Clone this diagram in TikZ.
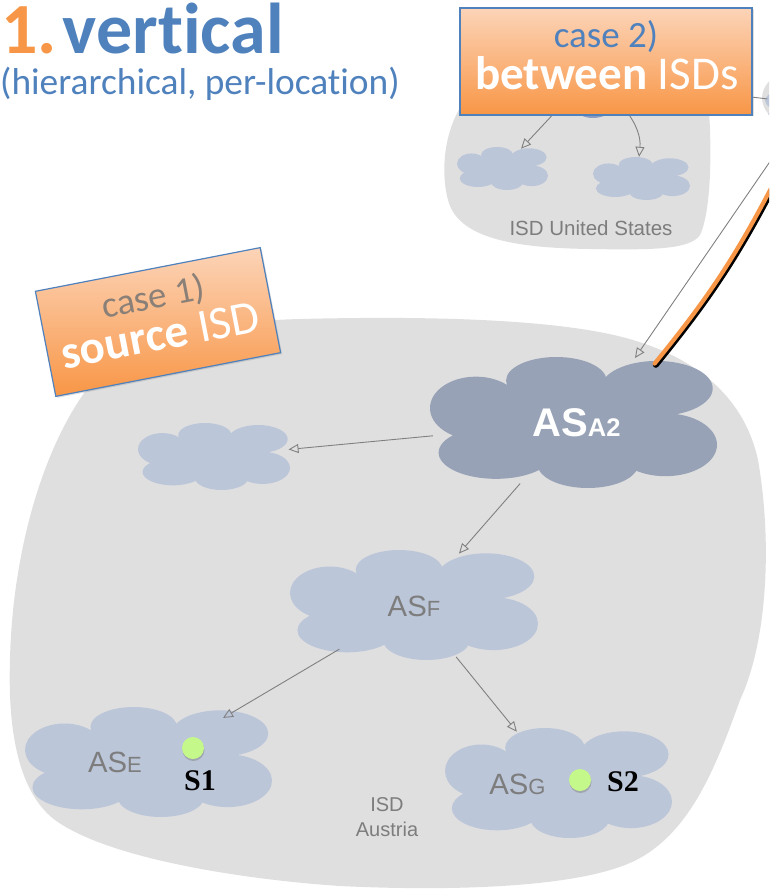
\documentclass[tikz,border=0pt]{standalone}
\usepackage{fontspec}
\usetikzlibrary{arrows.meta,shapes.geometric,shadows,calc}
\newfontfamily\calib[Ligatures=NoCommon]{Carlito}
\newfontfamily\arialf{Liberation Sans}
\newfontfamily\serifb{Liberation Serif}
\definecolor{blobgray}{RGB}{223,223,223}
\definecolor{cloudlight}{RGB}{188,198,217}
\definecolor{clouddark}{RGB}{151,162,182}
\definecolor{usdark}{RGB}{140,156,192}
\definecolor{arrowgray}{RGB}{128,128,128}
\definecolor{textgray}{RGB}{125,125,125}
\definecolor{titleorange}{RGB}{247,150,70}
\definecolor{titleblue}{RGB}{79,129,189}
\definecolor{dotgreen}{RGB}{197,248,138}
\definecolor{boxtop}{RGB}{252,212,184}
\definecolor{boxbot}{RGB}{248,150,70}
\definecolor{caseonegray}{RGB}{138,128,120}
\definecolor{linkorange}{RGB}{247,150,70}
\newcommand{\cloudat}[6]{%
  \begin{scope}[shift={(#2,#3)},xscale=#4/2,yscale=#5/2]
    \fill[#6] (-0.68,-0.22) ellipse [x radius=0.32,y radius=0.48]
      (-0.54,0.46) ellipse [x radius=0.40,y radius=0.40]
      (-0.12,-0.64) ellipse [x radius=0.35,y radius=0.36]
      (0.58,-0.52) ellipse [x radius=0.39,y radius=0.42]
      (0.64,0.34) ellipse [x radius=0.36,y radius=0.48]
      (0.10,0.64) ellipse [x radius=0.35,y radius=0.36]
      (0,0) ellipse [x radius=0.72,y radius=0.62];
  \end{scope}
  \node[cloudnode, minimum width=#4pt, minimum height=#5pt] (#1) at (#2,#3) {};}
\tikzset{
  cloudnode/.style={ellipse, draw=none, inner sep=0pt},
  isdarrow/.style={draw=arrowgray, line width=0.9pt, -{Triangle[open, length=10pt, width=9pt]}},
  casebox/.style={rectangle, draw=titleblue, line width=1.2pt, top color=boxtop, bottom color=boxbot,
    inner sep=0pt, minimum height=107pt, drop shadow={opacity=0.25, shadow xshift=1.5pt, shadow yshift=-1.5pt}},
  dot/.style={circle, fill=dotgreen, inner sep=0pt, minimum size=22pt,
    drop shadow={opacity=0.45, shadow xshift=0.5pt, shadow yshift=-2pt}},
  aslabel/.style={anchor=base, inner sep=0pt, text=textgray, font=\arialf},
  svlabel/.style={anchor=base, inner sep=0pt, text=black, font=\serifb\bfseries\fontsize{30}{30}\selectfont},
}
\begin{document}
\begin{tikzpicture}[x=1pt,y=-1pt]
\useasboundingbox (0,0) rectangle (769,893);
\clip (0,0) rectangle (769,893);
% ISD blobs
\fill[blobgray] (462,105) .. controls (445,130) and (440,170) .. (448,200)
  .. controls (458,240) and (520,248) .. (590,249)
  .. controls (650,250) and (690,250) .. (700,235)
  .. controls (712,210) and (712,140) .. (708,100) -- (708,60) -- (470,60) -- cycle;
\fill[blobgray] (840,98) ellipse [x radius=78, y radius=40];
\fill[blobgray] (90,385) .. controls (130,335) and (200,322) .. (300,319)
  .. controls (420,316) and (560,318) .. (633,340)
  .. controls (700,360) and (745,400) .. (758,460)
  .. controls (772,540) and (768,640) .. (740,700)
  .. controls (715,770) and (690,830) .. (640,858)
  .. controls (580,892) and (420,890) .. (340,886)
  .. controls (250,880) and (110,860) .. (55,820)
  .. controls (15,790) and (8,720) .. (10,660)
  .. controls (12,560) and (40,450) .. (90,385) -- cycle;
% clouds
\cloudat{ustop}{587}{78}{120}{80}{usdark}
\cloudat{usleft}{502.5}{168.5}{91}{43}{cloudlight}
\cloudat{usright}{641.5}{178.5}{97}{43}{cloudlight}
\cloudat{farright}{820}{105}{110}{40}{cloudlight}
\cloudat{asa2}{573.5}{422.5}{287}{131}{clouddark}
\cloudat{asleft}{214}{456.5}{152}{67}{cloudlight}
\cloudat{asf}{414}{605}{248}{110}{cloudlight}
\cloudat{ase}{148.5}{762}{247}{110}{cloudlight}
\cloudat{asg}{558.5}{783}{227}{110}{cloudlight}
% connectors
\draw[draw=arrowgray, line width=0.9pt] (ustop) -- (farright);
\draw[isdarrow] (ustop) -- (usleft);
\draw[isdarrow] (ustop) to[bend left=22] (usright);
\draw[isdarrow] (asa2) -- (asleft);
\draw[isdarrow] (asa2) -- (asf);
\draw[isdarrow] (asf) -- (ase);
\draw[isdarrow] (asf) -- (asg);
% labels
\node[anchor=base, inner sep=0pt, text=textgray, font=\arialf\fontsize{20.5}{20.5}\selectfont] (uslabel) at (591,236) {ISD United States};
\node[anchor=center, inner sep=0pt, align=center, text=textgray, font=\arialf\fontsize{20}{25}\selectfont] (atlabel) at (387,817) {ISD\\Austria};
\node[aslabel, text=white, font=\arialf\bfseries] (asa2t) at (576.5,436) {\fontsize{40}{40}\selectfont AS\fontsize{25.5}{25.5}\selectfont A2};
\node[aslabel] (asft) at (414,616) {\fontsize{29.3}{29.3}\selectfont AS\fontsize{22}{22}\selectfont F};
\node[aslabel] (aset) at (115,772) {\fontsize{29.3}{29.3}\selectfont AS\fontsize{22}{22}\selectfont E};
\node[aslabel] (asgt) at (517.5,794) {\fontsize{29.3}{29.3}\selectfont AS\fontsize{22}{22}\selectfont G};
\node[dot] (s1dot) at (193,748) {};
\node[dot] (s2dot) at (580,780) {};
\node[svlabel] (s1) at (200,790) {S1};
\node[svlabel] (s2) at (623,791) {S2};
% link from outside
\coordinate (extgray) at (780,147);
\coordinate (extorange) at (778,176);
\draw[isdarrow] (extgray) -- ($(asa2.center)+(61.5,-64.5)$);
\draw[black, line width=6pt, line cap=round] ($(extorange)+(0.8,0.8)$) to[bend left=6] ($(asa2.center)+(82.3,-57.7)$);
\draw[linkorange, line width=4.2pt, line cap=round] ($(extorange)+(-0.4,-0.4)$) to[bend left=6] ($(asa2.center)+(81.1,-58.9)$);
% case boxes
\node[casebox, minimum width=292pt] (case2) at (606,61.5) {};
\node[anchor=base, inner sep=0pt, text=titleblue, font=\calib\fontsize{37}{37}\selectfont] (case2a) at (606,48) {case 2)};
\node[anchor=base, inner sep=0pt, text=white, font=\calib\fontsize{47}{47}\selectfont] (case2b) at (607,90) {\textbf{between} ISDs};
\begin{scope}[shift={(158,322)}, rotate=11, transform shape]
\node[casebox, minimum width=229pt] (case1) at (0,0) {};
\node[anchor=base, inner sep=0pt, text=caseonegray, font=\calib\fontsize{37}{37}\selectfont] (case1a) at (0,-13.5) {case 1)};
\node[anchor=base, inner sep=0pt, text=white, font=\calib\fontsize{47}{47}\selectfont] (case1b) at (0,28.5) {\textbf{source} ISD};
\end{scope}
% title
\node[anchor=base west, inner sep=0pt, font=\calib\bfseries\fontsize{72}{72}\selectfont] (title) at (1,54) {\textcolor{titleorange}{1.}\hspace{6pt}\textcolor{titleblue}{vertical}};
\node[anchor=base west, inner sep=0pt, text=titleblue, font=\calib\fontsize{37.4}{37.4}\selectfont] (subtitle) at (0,95) {(hierarchical, per-location)};
\end{tikzpicture}
\end{document}
